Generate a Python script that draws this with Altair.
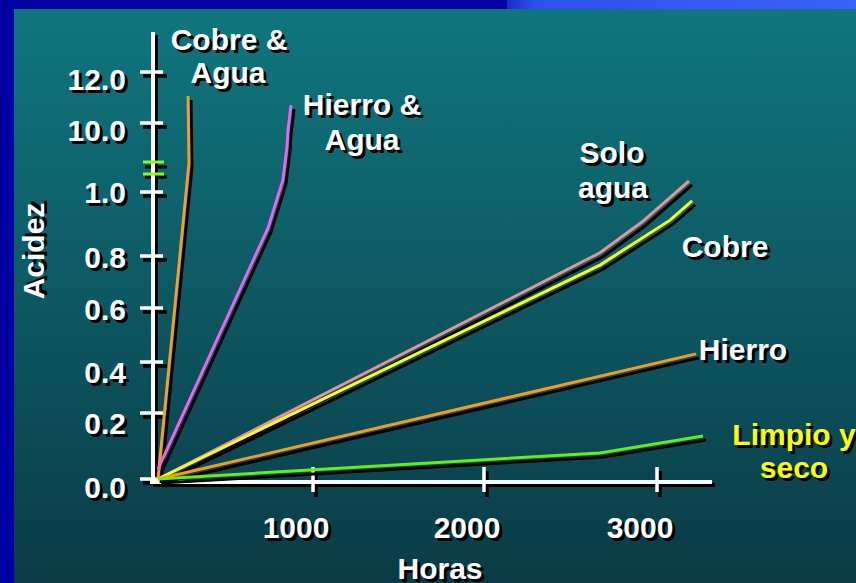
import altair as alt
import pandas as pd

# ---- data: acidity vs. exposure hours ----
series_names = ["Cobre & Agua", "Hierro & Agua", "Solo agua", "Cobre", "Hierro", "Limpio y seco"]
series_colors = ["#f4a01e", "#ee62ee", "#ec9090", "#ffff10", "#f79a1c", "#66ee10"]

cobre_agua_h = [0, 200, 194]
cobre_agua_a = [0.0, 8.54, 11.06]
hierro_agua_h = [0, 710, 806, 832, 839, 858]
hierro_agua_a = [0.03, 0.888, 1.06, 9.12, 9.74, 10.7]
solo_agua_h = [0, 2670, 2913, 3186]
solo_agua_a = [0.0, 0.81, 0.906, 1.055]
cobre_h = [0, 2670, 3076, 3204]
cobre_a = [0.0, 0.765, 0.912, 0.972]
hierro_h = [0, 3227]
hierro_a = [0.0, 0.43]
limpio_h = [0, 2670, 3268]
limpio_a = [0.0, 0.079, 0.13]

y_ticks = [0.0, 0.2, 0.4, 0.6, 0.8, 1.0, 10.0, 12.0]
y_tick_labels = ["0.0", "0.2", "0.4", "0.6", "0.8", "1.0", "10.0", "12.0"]
x_ticks = [1000, 2000, 3000]
x_tick_labels = ["1000", "2000", "3000"]

# ---- layout ----
W, H = 559, 450
PAD = {"left": 153, "top": 32, "right": 144, "bottom": 101}
FONT = "Liberation Sans"
FS = 30
SH = 3  # text drop-shadow offset
# vertical nudge of each y tick label below its tick (hand-placed look)
ylab_nudge = [10, 12, 12, 3, 3, 2, 9, 9]

# broken y axis: piecewise scale with a gap between 1.0 and 10.0
y_scale = alt.Scale(domain=[0, 0.2, 0.4, 0.6, 0.8, 1.0, 1.1, 8.5, 10, 12],
                    range=[447, 381, 330, 276, 224, 160, 140, 132, 91, 40],
                    nice=False, zero=False)
x_scale = alt.Scale(domain=[0, 1000, 2000, 3000, 3320],
                    range=[5, 160, 331, 504, 559],
                    nice=False, zero=False)

rows = []
for name, hs, vs in zip(series_names,
                        [cobre_agua_h, hierro_agua_h, solo_agua_h, cobre_h, hierro_h, limpio_h],
                        [cobre_agua_a, hierro_agua_a, solo_agua_a, cobre_a, hierro_a, limpio_a]):
    for i, (h, v) in enumerate(zip(hs, vs)):
        rows.append({"serie": name, "horas": h, "acidez": v, "idx": i})
df = pd.DataFrame(rows)

X = alt.X("horas:Q", scale=x_scale, axis=None)
Y = alt.Y("acidez:Q", scale=y_scale, axis=None)
one = alt.Data(values=[{}])

# ---- background panels ----
panel = alt.Chart(one).mark_rect(
    fill=alt.LinearGradient(gradient="linear",
                            stops=[alt.GradientStop(offset=0, color="#10767e"),
                                   alt.GradientStop(offset=1, color="#0a3b46")],
                            x1=0, y1=0, x2=0, y2=1)
).encode(x=alt.value(-139), x2=alt.value(703), y=alt.value(-23), y2=alt.value(551))

top_band = alt.Chart(one).mark_rect(
    fill=alt.LinearGradient(gradient="linear",
                            stops=[alt.GradientStop(offset=0, color="#1a2cc0"),
                                   alt.GradientStop(offset=0.08, color="#3050ec"),
                                   alt.GradientStop(offset=1, color="#3a62f6")],
                            x1=0, y1=0, x2=1, y2=0)
).encode(x=alt.value(354), x2=alt.value(703), y=alt.value(-32), y2=alt.value(-23))

# ---- hand-drawn style axes (white with black drop shadow) ----
yaxis_shadow = alt.Chart(one).mark_rule(color="black", strokeWidth=4).encode(
    x=alt.value(3), y=alt.value(3), y2=alt.value(455))
yaxis = alt.Chart(one).mark_rule(color="white", strokeWidth=4).encode(
    x=alt.value(0), y=alt.value(0), y2=alt.value(452))
xaxis_shadow = alt.Chart(one).mark_rule(color="black", strokeWidth=4).encode(
    x=alt.value(0), x2=alt.value(562), y=alt.value(453))
xaxis = alt.Chart(one).mark_rule(color="white", strokeWidth=4).encode(
    x=alt.value(-3), x2=alt.value(559), y=alt.value(450))

ytick_df = pd.DataFrame({"v": y_ticks, "label": y_tick_labels})
xtick_df = pd.DataFrame({"v": x_ticks, "label": x_tick_labels})

ytick_shadow = alt.Chart(ytick_df).mark_rule(color="black", strokeWidth=3.5, yOffset=4).encode(
    y=alt.Y("v:Q", scale=y_scale, axis=None), x=alt.value(-10), x2=alt.value(14))
ytick = alt.Chart(ytick_df).mark_rule(color="white", strokeWidth=3.5).encode(
    y=alt.Y("v:Q", scale=y_scale, axis=None), x=alt.value(-13), x2=alt.value(10))
xtick_shadow = alt.Chart(xtick_df).mark_rule(color="black", strokeWidth=3.5, xOffset=3).encode(
    x=alt.X("v:Q", scale=x_scale, axis=None), y=alt.value(439), y2=alt.value(465))
xtick = alt.Chart(xtick_df).mark_rule(color="white", strokeWidth=3.5).encode(
    x=alt.X("v:Q", scale=x_scale, axis=None), y=alt.value(435), y2=alt.value(460))

# axis break marks
brk_shadow = [alt.Chart(one).mark_rule(color="black", strokeWidth=3).encode(
    x=alt.value(-8), x2=alt.value(14), y=alt.value(yy)) for yy in (135, 145)]
brk = [alt.Chart(one).mark_rule(color="#88ff10", strokeWidth=3).encode(
    x=alt.value(-10), x2=alt.value(11), y=alt.value(yy)) for yy in (130, 142)]

txt = dict(font=FONT, fontSize=FS, fontWeight="bold")

# y tick labels, one layer per label so each keeps its own nudge
ylabs_shadow, ylabs = [], []
for lab, nudge in zip(y_tick_labels, ylab_nudge):
    base = alt.Chart(ytick_df).transform_filter(alt.datum.label == lab)
    ylabs_shadow.append(base.mark_text(color="black", align="right", baseline="middle",
                                       dy=nudge + SH, **txt).encode(
        y=alt.Y("v:Q", scale=y_scale, axis=None), x=alt.value(-27 + SH), text="label:N"))
    ylabs.append(base.mark_text(color="white", align="right", baseline="middle",
                                dy=nudge, **txt).encode(
        y=alt.Y("v:Q", scale=y_scale, axis=None), x=alt.value(-27), text="label:N"))

xlab_shadow = alt.Chart(xtick_df).mark_text(color="black", align="center", baseline="middle",
                                            dx=-17 + SH, **txt).encode(
    x=alt.X("v:Q", scale=x_scale, axis=None), y=alt.value(497 + SH), text="label:N")
xlab = alt.Chart(xtick_df).mark_text(color="white", align="center", baseline="middle",
                                     dx=-17, **txt).encode(
    x=alt.X("v:Q", scale=x_scale, axis=None), y=alt.value(497), text="label:N")

# ---- series lines with drop shadow ----
line_shadow = alt.Chart(df).mark_line(color="black", strokeWidth=3, xOffset=3, yOffset=4).encode(
    x=X, y=Y, detail="serie:N", order=alt.Order("idx:Q"))
lines = alt.Chart(df).mark_line(strokeWidth=3).encode(
    x=X, y=Y,
    color=alt.Color("serie:N", scale=alt.Scale(domain=series_names, range=series_colors), legend=None),
    order=alt.Order("idx:Q"))


def shadow_text(s, x, y, color="white", align="center", baseline="alphabetic", angle=0):
    kw = dict(align=align, baseline=baseline, **txt)
    if angle:
        kw["angle"] = angle
    sh = alt.Chart(one).mark_text(color="black", dx=SH, dy=SH, **kw).encode(
        x=alt.value(x), y=alt.value(y), text=alt.value(s))
    fg = alt.Chart(one).mark_text(color=color, **kw).encode(
        x=alt.value(x), y=alt.value(y), text=alt.value(s))
    return [sh, fg]


labels = []
labels += shadow_text("Cobre &", 76, 18)
labels += shadow_text("Agua", 75, 51)
labels += shadow_text("Hierro &", 209, 83)
labels += shadow_text("Agua", 209, 118)
labels += shadow_text("Solo", 459, 131)
labels += shadow_text("agua", 460, 166)
labels += shadow_text("Cobre", 572, 225)
labels += shadow_text("Hierro", 590, 328)
labels += shadow_text("Limpio y", 641, 413, color="#ffff00")
labels += shadow_text("seco", 641, 446, color="#ffff00")
labels += shadow_text("Horas", 287, 538, baseline="middle")
labels += shadow_text("Acidez", -118, 219, baseline="middle", angle=270)

chart = alt.layer(
    panel, top_band,
    yaxis_shadow, xaxis_shadow, ytick_shadow, xtick_shadow, *brk_shadow,
    yaxis, xaxis, ytick, xtick, *brk,
    line_shadow, lines,
    *ylabs_shadow, *ylabs, xlab_shadow, xlab,
    *labels,
).properties(
    width=W, height=H, padding=PAD,
    autosize=alt.AutoSizeParams(type="none"),
).configure(background="#0000a2").configure_view(stroke=None)

chart.save("out.html", embed_options={"renderer": "svg", "actions": False})
